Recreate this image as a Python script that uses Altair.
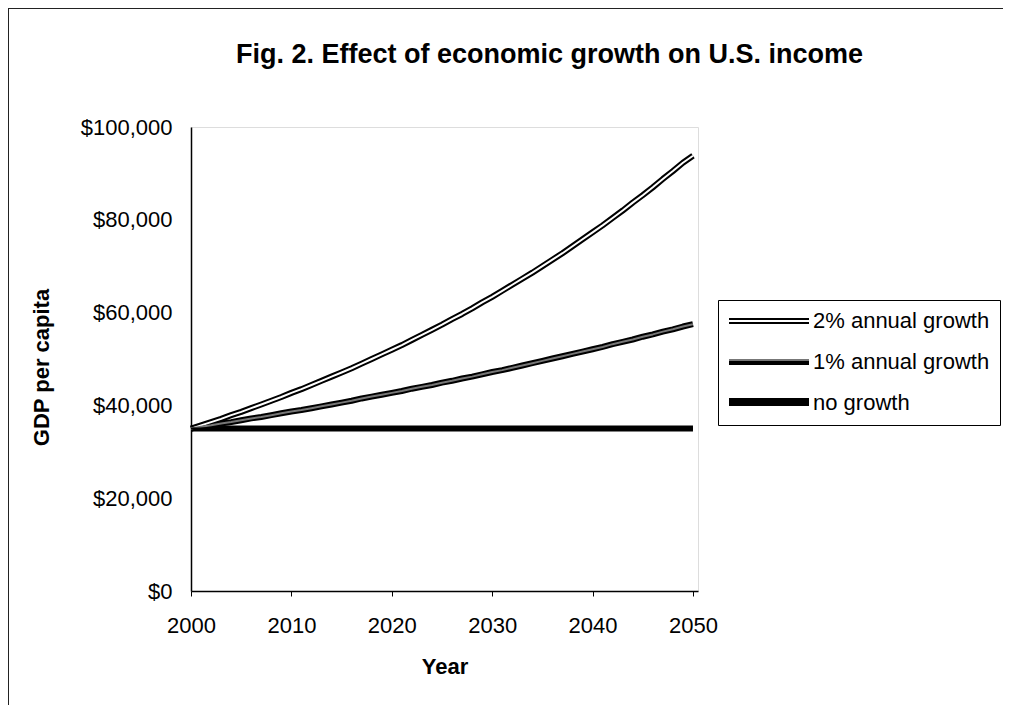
import altair as alt
import pandas as pd

years = list(range(2000, 2051))
growth_2pct = [35000, 35700, 36400, 37100, 37900, 38600, 39400, 40200, 41000, 41800,
               42700, 43500, 44400, 45300, 46200, 47100, 48000, 49000, 50000, 51000,
               52000, 53000, 54100, 55200, 56300, 57400, 58600, 59700, 60900, 62200,
               63400, 64700, 66000, 67300, 68600, 70000, 71400, 72800, 74300, 75800,
               77300, 78800, 80400, 82000, 83700, 85300, 87000, 88800, 90500, 92300,
               93800]
growth_1pct = [35000, 35400, 35700, 36100, 36400, 36800, 37200, 37500, 37900, 38300,
               38700, 39000, 39400, 39800, 40200, 40600, 41000, 41500, 41900, 42300,
               42700, 43100, 43600, 44000, 44400, 44900, 45300, 45800, 46200, 46700,
               47200, 47600, 48100, 48600, 49100, 49600, 50100, 50600, 51100, 51600,
               52100, 52600, 53200, 53700, 54200, 54800, 55300, 55900, 56400, 57000,
               57500]
no_growth = [35000] * len(years)

series_names = ["2% annual growth", "1% annual growth", "no growth"]
outer_colors = ["#000000", "#000000", "#000000"]
inner_colors = ["#ffffff", "#777777", "#000000"]
outer_widths = [6, 6, 3.5]
y_ticks = [0, 20000, 40000, 60000, 80000, 100000]
x_ticks = [2000, 2010, 2020, 2030, 2040, 2050]

rows = []
for name, vals in zip(series_names, [growth_2pct, growth_1pct, no_growth]):
    for yr, v in zip(years, vals):
        rows.append({"Year": yr, "GDP": v, "Series": name})
df = pd.DataFrame(rows)

FONT = "Liberation Sans"
W, H = 507, 464
LEG_X, LEG_Y = 527, 173
SYM = "M-1.25,0H8.75"
LEG_COMMON = dict(title=None, orient="none", legendX=LEG_X, legendY=LEG_Y,
                  symbolType=SYM, symbolSize=256, labelOffset=63,
                  labelFontSize=22, labelFont=FONT, labelLimit=400,
                  padding=10, rowPadding=17)

x_enc = alt.X("Year:Q",
              scale=alt.Scale(domain=[2000, 2050.5], nice=False, zero=False),
              axis=alt.Axis(values=x_ticks, format="d", grid=False, title="Year",
                            labelFontSize=22, labelFont=FONT, labelColor="#000",
                            labelPadding=19, labelFlush=False, tickSize=5,
                            tickColor="#000", domainColor="#000", domainWidth=1.5,
                            titleFontSize=22, titleFont=FONT, titleFontWeight="bold",
                            titleColor="#000", titleY=75, titleBaseline="middle"))
y_enc = alt.Y("GDP:Q",
              scale=alt.Scale(domain=[0, 100000], nice=False),
              axis=alt.Axis(values=y_ticks, format="$,.0f", grid=False,
                            title="GDP per capita", ticks=False,
                            labelFontSize=22, labelFont=FONT, labelColor="#000",
                            labelPadding=19, labelFlush=False,
                            domainColor="#000", domainWidth=1.5,
                            titleFontSize=22, titleFont=FONT, titleFontWeight="bold",
                            titleColor="#000", titleX=-150, titleY=240,
                            titleAngle=270, titleAlign="center",
                            titleBaseline="middle"))

outer = alt.Chart(df).mark_line(strokeJoin="round").encode(
    x=x_enc, y=y_enc,
    color=alt.Color("Series:N",
                    scale=alt.Scale(domain=series_names, range=outer_colors),
                    legend=alt.Legend(symbolStrokeWidth=5, labelColor="#000",
                                      strokeColor="#000", fillColor="#fff",
                                      **LEG_COMMON)),
    strokeWidth=alt.StrokeWidth("Series:N",
                                scale=alt.Scale(domain=series_names, range=outer_widths),
                                legend=None),
    detail="Series:N",
)
inner = alt.Chart(df).mark_line(strokeWidth=2, strokeJoin="round").encode(
    x="Year:Q", y="GDP:Q",
    stroke=alt.Stroke("Series:N",
                      scale=alt.Scale(domain=series_names, range=inner_colors),
                      legend=alt.Legend(symbolStrokeWidth=2, labelExpr="''",
                                        **LEG_COMMON)),
    detail="Series:N",
)

frame_left = alt.Chart(df).mark_rule(color="#222", strokeWidth=1).encode(
    x=alt.value(-182.5), y=alt.value(-118.5), y2=alt.value(578))
frame_top = alt.Chart(df).mark_rule(color="#222", strokeWidth=1).encode(
    x=alt.value(-182.5), x2=alt.value(812), y=alt.value(-118.5))

chart = alt.layer(frame_left, frame_top, outer, inner).resolve_scale(
    color="independent", stroke="independent", strokeWidth="independent"
).properties(
    width=W, height=H,
    autosize=alt.AutoSizeParams(type="none"),
    padding={"left": 183, "top": 119, "right": 305, "bottom": 114},
    title=alt.TitleParams("Fig. 2. Effect of economic growth on U.S. income",
                          font=FONT, fontSize=27, fontWeight="bold", color="#000",
                          anchor="middle", dx=105, dy=82, offset=0,
                          baseline="alphabetic"),
).configure_view(stroke="#000", strokeWidth=1.5).configure(background="#ffffff")

chart.save("out.html", embed_options={"renderer": "svg", "actions": False})
